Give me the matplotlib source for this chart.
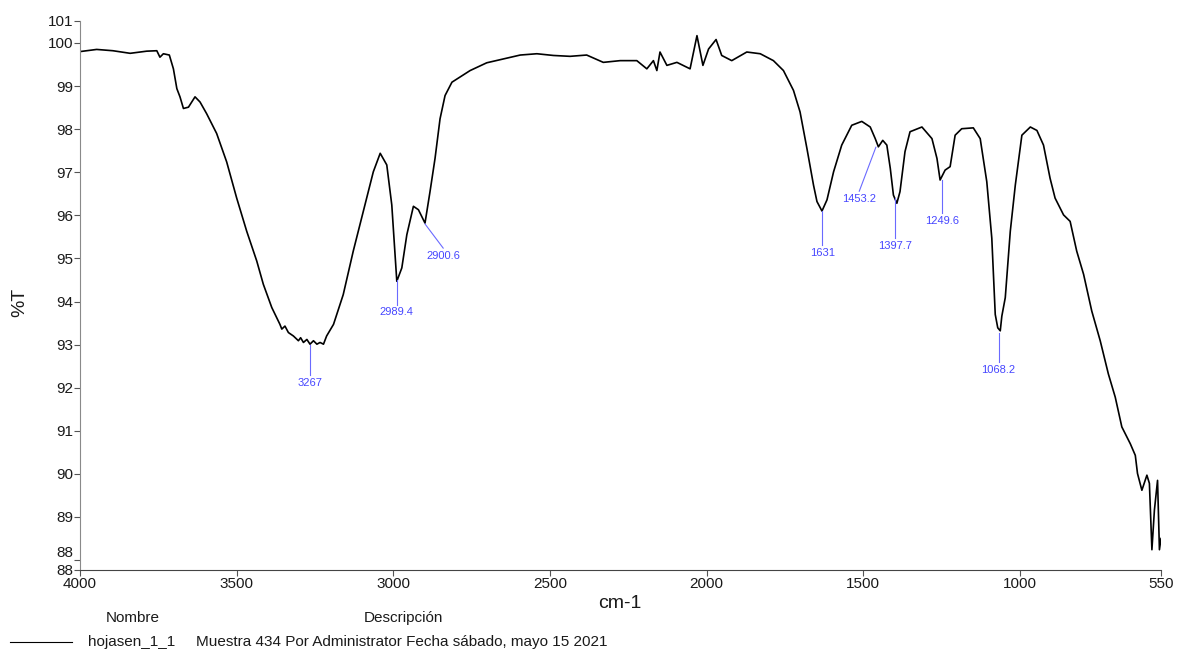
import matplotlib.pyplot as plt
import numpy as np

plt.rcParams["font.family"] = ["Liberation Sans", "DejaVu Sans"]

# espectro IR (cm-1, %T)
wavenumber = [
    4000, 3947, 3895, 3840, 3787, 3755, 3745, 3734, 3715, 3702, 3691, 3681,
    3670, 3654, 3633, 3617, 3596, 3564, 3532, 3500, 3468, 3436, 3415, 3388,
    3362, 3356, 3346, 3335, 3319, 3303, 3296, 3287, 3276, 3266, 3255, 3244,
    3234, 3223, 3213, 3191, 3160, 3128, 3096, 3064,
    3042, 3021, 3005, 2989, 2973, 2957, 2936, 2920, 2899, 2893, 2883, 2867,
    2851, 2835, 2813, 2787, 2755, 2702, 2649, 2595, 2542, 2489, 2436, 2383,
    2330, 2276, 2223, 2191, 2170, 2159, 2149, 2127, 2095, 2053, 2031, 2012,
    1994, 1970, 1952, 1920, 1872, 1829, 1787, 1755, 1723, 1702, 1680, 1659,
    1648, 1632, 1616, 1595, 1569, 1537, 1505, 1478, 1462, 1452, 1438, 1425,
    1414, 1404, 1393, 1383, 1367, 1351, 1313, 1281, 1265, 1255, 1239, 1223,
    1207, 1186, 1149, 1127, 1106, 1090, 1079, 1071, 1063, 1058, 1047, 1031,
    1015, 994, 967, 946, 925, 904, 888, 861, 840, 819, 797, 771, 744, 718,
    696, 675, 648, 632, 625, 611, 595, 587, 579, 571, 561, 555, 550,
]
transmittance = [
    99.80, 99.85, 99.82, 99.76, 99.81, 99.82, 99.67, 99.75, 99.72, 99.40, 98.94, 98.75,
    98.48, 98.51, 98.75, 98.63, 98.36, 97.90, 97.24, 96.40, 95.63, 94.94, 94.40, 93.86,
    93.47, 93.36, 93.43, 93.28, 93.20, 93.09, 93.16, 93.05, 93.12, 93.01, 93.09, 93.01,
    93.05, 93.01, 93.20, 93.47, 94.16, 95.17, 96.09, 97.01,
    97.44, 97.17, 96.24, 94.47, 94.78, 95.55, 96.21, 96.13, 95.82, 96.09, 96.55, 97.32,
    98.24, 98.78, 99.09, 99.21, 99.36, 99.54, 99.63, 99.72, 99.75, 99.71, 99.69, 99.72,
    99.55, 99.59, 99.59, 99.40, 99.59, 99.36, 99.79, 99.48, 99.55, 99.40, 100.17, 99.48,
    99.86, 100.08, 99.71, 99.59, 99.79, 99.75, 99.59, 99.36, 98.90, 98.40, 97.55, 96.70,
    96.32, 96.10, 96.36, 97.01, 97.63, 98.09, 98.18, 98.05, 97.78, 97.59, 97.74, 97.63,
    97.09, 96.47, 96.28, 96.55, 97.48, 97.94, 98.05, 97.78, 97.32, 96.82, 97.05, 97.13,
    97.86, 98.01, 98.03, 97.78, 96.78, 95.47, 93.70, 93.39, 93.32, 93.66, 94.09, 95.63,
    96.70, 97.86, 98.05, 97.97, 97.63, 96.86, 96.40, 96.01, 95.86, 95.17, 94.63, 93.78,
    93.09, 92.32, 91.78, 91.09, 90.70, 90.43, 90.01, 89.62, 89.97, 89.78, 88.24, 89.16,
    89.85, 88.24, 88.50,
]

# picos marcados: etiqueta, cm-1 del pico, %T inicio linea, cm-1 del texto, %T fin linea
peak_labels = ["3267", "2989.4", "2900.6", "1631", "1453.2", "1397.7", "1249.6", "1068.2"]
peak_wn = [3267, 2989.4, 2899, 1631, 1460, 1397.7, 1249.6, 1068.2]
peak_top = [92.98, 94.50, 95.80, 96.10, 97.58, 96.40, 96.81, 93.28]
label_wn = [3267, 2989.4, 2841, 1631, 1513, 1397.7, 1249.6, 1068.2]
label_bottom = [92.29, 93.93, 95.24, 95.31, 96.56, 95.47, 96.05, 92.59]

x_ticks = [4000, 3500, 3000, 2500, 2000, 1500, 1000, 550]
y_min, y_max = 87.77, 100.51
y_ticks = [y_min] + list(range(88, 101)) + [y_max]
y_ticklabels = ["88"] + [str(v) for v in range(88, 101)] + ["101"]

fig = plt.figure(figsize=(11.77, 6.5), dpi=100)
ax = fig.add_axes([0.068, 0.1231, 0.9184, 0.8446])

ax.plot(wavenumber, transmittance, color="black", lw=1.2)

blue = "#4646ff"
for lab, wn, t0, wl, t1 in zip(peak_labels, peak_wn, peak_top, label_wn, label_bottom):
    ax.plot([wn, wl], [t0, t1], color="#6a6aff", lw=0.8)
    ax.text(wl, t1 - 0.06, lab, color=blue, fontsize=8, ha="center", va="top")

ax.set_xlim(4000, 550)
ax.set_ylim(y_min, y_max)
ax.set_xticks(x_ticks)
ax.set_xticklabels([str(v) for v in x_ticks])
ax.set_yticks(y_ticks)
ax.set_yticklabels(y_ticklabels)
ax.tick_params(labelsize=11, length=4, width=0.8, color="#555555",
               labelcolor="#1a1a1a", pad=1)
for lbl in ax.get_yticklabels():
    if lbl.get_text() == "88" and lbl.get_position()[1] > 87.9:
        lbl.set_va("bottom")

ax.spines["top"].set_visible(False)
ax.spines["right"].set_visible(False)
ax.spines["left"].set_color("#8a8a8a")
ax.spines["bottom"].set_color("#444444")

fig.text(620 / 1177, 1 - 603 / 650, "cm-1", fontsize=14, ha="center", va="center",
         color="#1a1a1a")
fig.text(20 / 1177, 1 - 302 / 650, "%T", fontsize=14, ha="center", va="center",
         rotation=90, color="#1a1a1a")

# pie con nombre y descripcion
fig.text(133 / 1177, 1 - 618 / 650, "Nombre", fontsize=11, ha="center", va="center",
         color="#1a1a1a")
fig.text(403 / 1177, 1 - 618 / 650, "Descripción", fontsize=11, ha="center",
         va="center", color="#1a1a1a")
fig.add_artist(plt.Line2D([10 / 1177, 72 / 1177], [1 - 642 / 650, 1 - 642 / 650],
                          color="black", lw=0.8))
fig.text(88 / 1177, 1 - 642 / 650, "hojasen_1_1", fontsize=11, ha="left", va="center",
         color="#1a1a1a")
fig.text(196 / 1177, 1 - 642 / 650,
         "Muestra 434 Por Administrator Fecha sábado, mayo 15 2021",
         fontsize=11, ha="left", va="center", color="#1a1a1a")

plt.savefig("out.png", dpi=100)
